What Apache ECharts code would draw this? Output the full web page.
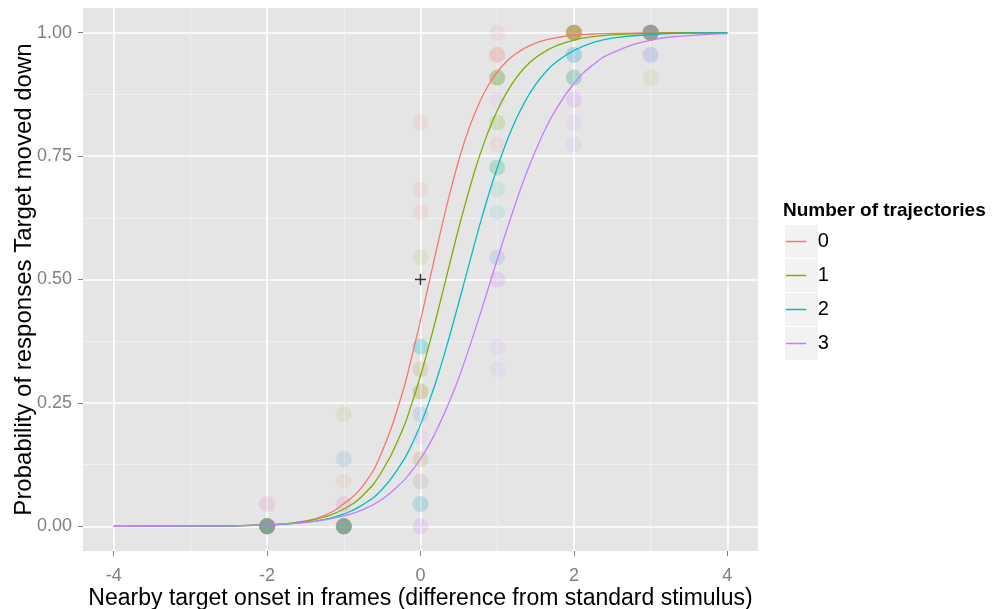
<!DOCTYPE html>
<html>
<head>
<meta charset="utf-8">
<script src="https://cdn.jsdelivr.net/npm/echarts@6/dist/echarts.min.js"></script>
<style>
html,body{margin:0;padding:0;background:#fff;}
#chart{width:995px;height:609px;}
</style>
</head>
<body>
<div id="chart"></div>
<script>
// ---- data ----
var groups = ['0', '1', '2', '3'];
var groupColors = ['#F8766D', '#7CAE00', '#00BFC4', '#C77CFF'];

// fitted curves (x grid shared)
var curveX = [-4, -3, -2, -1.5, -1.25, -1, -0.75, -0.5, -0.25, -0.125, 0, 0.125, 0.25, 0.375, 0.5, 0.625, 0.75, 0.875, 1, 1.125, 1.25, 1.375, 1.5, 1.625, 1.75, 2, 2.25, 2.5, 3, 3.5, 4];
var curve0 = [0.0000, 0.0002, 0.003, 0.011, 0.022, 0.046, 0.082, 0.152, 0.263, 0.336, 0.417, 0.503, 0.589, 0.670, 0.742, 0.803, 0.852, 0.891, 0.920, 0.942, 0.958, 0.970, 0.979, 0.985, 0.989, 0.995, 0.9973, 0.9987, 0.9997, 0.9999, 1.0];
var curve1 = [0.0000, 0.0002, 0.003, 0.010, 0.019, 0.035, 0.063, 0.112, 0.190, 0.243, 0.305, 0.375, 0.450, 0.528, 0.605, 0.676, 0.741, 0.796, 0.842, 0.879, 0.909, 0.932, 0.949, 0.962, 0.972, 0.985, 0.9918, 0.9956, 0.9987, 0.9996, 0.9999];
var curve2 = [0.0000, 0.0002, 0.0025, 0.008, 0.014, 0.025, 0.044, 0.075, 0.127, 0.162, 0.206, 0.258, 0.317, 0.383, 0.454, 0.526, 0.598, 0.665, 0.726, 0.780, 0.826, 0.864, 0.895, 0.919, 0.938, 0.964, 0.980, 0.989, 0.996, 0.999, 0.9996];
var curve3 = [0.0001, 0.0004, 0.003, 0.008, 0.013, 0.021, 0.034, 0.055, 0.088, 0.110, 0.137, 0.169, 0.208, 0.252, 0.301, 0.357, 0.416, 0.478, 0.540, 0.601, 0.659, 0.713, 0.761, 0.804, 0.840, 0.897, 0.935, 0.959, 0.985, 0.994, 0.998];

// observed proportions (semi-transparent points), [onset, proportion]
var points0 = [[-2,0],[-2,0],[-2,0],[-2,0],[-2,0],[-2,0.045],
  [-1,0],[-1,0],[-1,0],[-1,0],[-1,0.091],[-1,0.045],
  [0,0.818],[0,0.682],[0,0.636],[0,0.318],[0,0.273],[0,0.136],
  [1,1.0],[1,0.955],[1,0.955],[1,0.955],[1,0.909],[1,0.773],
  [2,1],[2,1],[2,1],[2,1],[2,1],[2,1],
  [3,1],[3,1],[3,1],[3,1],[3,1],[3,1]];
var points1 = [[-2,0],[-2,0],[-2,0],[-2,0],[-2,0],[-2,0],
  [-1,0],[-1,0],[-1,0],[-1,0],[-1,0],[-1,0.227],
  [0,0.545],[0,0.318],[0,0.273],[0,0.273],[0,0.136],[0,0.091],
  [1,0.909],[1,0.909],[1,0.909],[1,0.818],[1,0.818],[1,0.727],
  [2,1],[2,1],[2,1],[2,1],[2,1],[2,0.909],
  [3,1],[3,1],[3,1],[3,1],[3,1],[3,0.909]];
var points2 = [[-2,0],[-2,0],[-2,0],[-2,0],[-2,0],[-2,0],
  [-1,0],[-1,0],[-1,0],[-1,0],[-1,0],[-1,0.136],
  [0,0.364],[0,0.364],[0,0.045],[0,0.045],[0,0.227],[0,0.364],
  [1,0.727],[1,0.727],[1,0.682],[1,0.636],[1,0.545],[1,0.909],
  [2,1],[2,0.955],[2,0.955],[2,0.955],[2,0.909],[2,0.909],
  [3,1],[3,1],[3,1],[3,1],[3,1],[3,0.955]];
var points3 = [[-2,0],[-2,0],[-2,0],[-2,0],[-2,0],[-2,0.045],
  [-1,0],[-1,0],[-1,0],[-1,0],[-1,0.045],[-1,0.136],
  [0,0.227],[0,0.182],[0,0.045],[0,0],[0,0],[0,0.091],
  [1,0.545],[1,0.5],[1,0.364],[1,0.318],[1,0.864],[1,0.5],
  [2,0.864],[2,0.818],[2,0.773],[2,0.955],[2,0.909],[2,0.864],
  [3,1],[3,1],[3,0.955],[3,0.955],[3,1],[3,1]];
var crossPoint = [[0, 0.5]];

var xMajorTicks = [-4, -2, 0, 2, 4];
var xMinorTicks = [-3, -1, 1, 3];
var yMajorTicks = [0, 0.25, 0.5, 0.75, 1];
var yMinorTicks = [0.125, 0.375, 0.625, 0.875];

var xTitle = 'Nearby target onset in frames (difference from standard stimulus)';
var yTitle = 'Probability of responses Target moved down';
var legendTitle = 'Number of trajectories';

// ---- build chart ----
var FONT = '"Liberation Sans", Arial, sans-serif';
var curves = [curve0, curve1, curve2, curve3];
var pointSets = [points0, points1, points2, points3];

function hexA(hex, a) {
  var r = parseInt(hex.slice(1,3),16), g = parseInt(hex.slice(3,5),16), b = parseInt(hex.slice(5,7),16);
  return 'rgba(' + r + ',' + g + ',' + b + ',' + a + ')';
}

// interleave the groups so overlapping translucent points blend evenly
var pointItems = [];
var maxLen = Math.max.apply(null, pointSets.map(function (p) { return p.length; }));
for (var k = 0; k < maxLen; k++) {
  pointSets.forEach(function (pts, i) {
    if (k < pts.length) {
      pointItems.push({ value: pts[k], itemStyle: { color: hexA(groupColors[i], 0.12) } });
    }
  });
}

var series = [{
  name: 'observed', type: 'scatter', data: pointItems, symbol: 'circle', symbolSize: 16,
  silent: true, z: 2, large: false
}];
curves.forEach(function (ys, i) {
  series.push({
    name: groups[i], type: 'line', symbol: 'none', showSymbol: false,
    smooth: true,
    data: curveX.map(function (x, k) { return [x, ys[k]]; }),
    lineStyle: { color: groupColors[i], width: 1.3 }, itemStyle: { color: groupColors[i] },
    z: 3
  });
});
series.push({
  name: 'cross', type: 'scatter', data: crossPoint,
  symbol: 'path://M4.6,0h1.4v4.6h4.6v1.4h-4.6v4.6h-1.4v-4.6h-4.6v-1.4h4.6z', symbolSize: 11,
  itemStyle: { color: '#000' }, z: 5, silent: true
});

var legends = groups.map(function (g, i) {
  return {
    data: [g], left: 786, top: 231.5 + 34 * i, padding: 0, orient: 'vertical',
    icon: 'path://M0,0h27v2h-27z', itemWidth: 27, itemHeight: 1.5, selectedMode: false,
    textStyle: { fontFamily: FONT, fontSize: 20, color: '#000', lineHeight: 20, padding: [0, 0, 0, 3] }
  };
});

var keyRects = groups.map(function (g, i) {
  return { type: 'rect', left: 785, top: 225 + 34 * i, shape: { width: 33, height: 33 }, style: { fill: '#F2F2F2' }, z: -1 };
});

var option = {
  backgroundColor: '#ffffff',
  animation: false,
  title: {
    text: legendTitle, left: 783, top: 201, padding: 0,
    textStyle: { fontFamily: FONT, fontSize: 19, fontWeight: 'bold', color: '#000' }
  },
  legend: legends,
  graphic: keyRects,
  grid: { left: 83, right: 237, top: 8, bottom: 58, show: true, backgroundColor: '#E5E5E5', borderWidth: 0,
    containLabel: false, outerBoundsMode: 'none' },
  xAxis: [{
    type: 'value', min: -4.4, max: 4.4,
    name: xTitle, nameLocation: 'middle', nameGap: 36, nameMoveOverlap: false,
    nameTextStyle: { fontFamily: FONT, fontSize: 23, color: '#000' },
    axisLine: { show: false, onZero: false },
    axisTick: { show: true, length: 5, customValues: xMajorTicks, lineStyle: { color: '#7F7F7F', width: 1 } },
    axisLabel: { customValues: xMajorTicks, margin: 16, fontFamily: FONT, fontSize: 18, color: '#7F7F7F' },
    splitLine: { show: true, lineStyle: { color: '#FFFFFF', width: 1.6 } }
  }, {
    type: 'value', min: -4.4, max: 4.4, position: 'bottom',
    axisLine: { show: false, onZero: false }, axisLabel: { show: false },
    axisTick: { show: false, customValues: xMinorTicks },
    splitLine: { show: true, lineStyle: { color: '#F2F2F2', width: 0.8 } }
  }],
  yAxis: [{
    type: 'value', min: -0.05, max: 1.05,
    name: yTitle, nameLocation: 'middle', nameGap: 47, nameRotate: 90, nameMoveOverlap: false,
    nameTextStyle: { fontFamily: FONT, fontSize: 24, color: '#000' },
    axisLine: { show: false, onZero: false },
    axisTick: { show: true, length: 5, customValues: yMajorTicks, lineStyle: { color: '#7F7F7F', width: 1 } },
    axisLabel: { customValues: yMajorTicks, margin: 11, fontFamily: FONT, fontSize: 18, color: '#7F7F7F',
      formatter: function (v) { return v.toFixed(2); } },
    splitLine: { show: true, lineStyle: { color: '#FFFFFF', width: 1.6 } }
  }, {
    type: 'value', min: -0.05, max: 1.05, position: 'left',
    axisLine: { show: false, onZero: false }, axisLabel: { show: false },
    axisTick: { show: false, customValues: yMinorTicks },
    splitLine: { show: true, lineStyle: { color: '#F2F2F2', width: 0.8 } }
  }],
  series: series
};

var chart = echarts.init(document.getElementById('chart'), null, { renderer: 'canvas' });
chart.setOption(option);
</script>
</body>
</html>
